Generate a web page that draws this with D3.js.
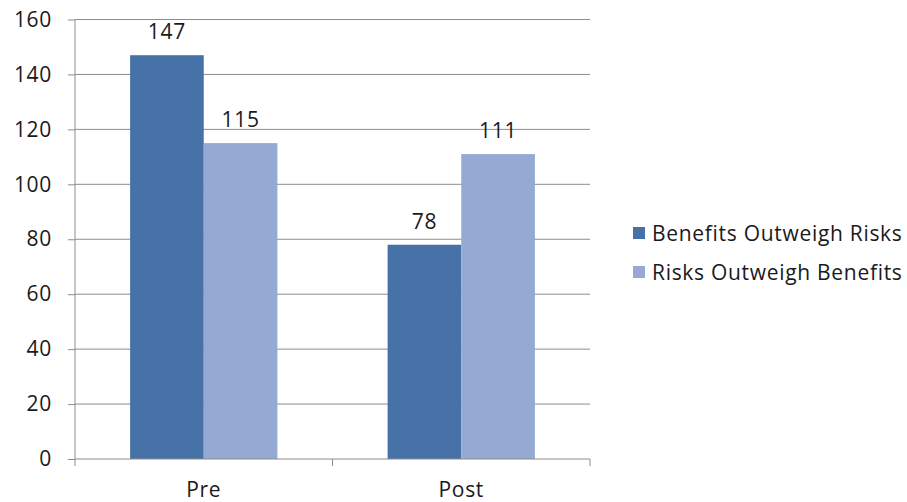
<!DOCTYPE html>
<html><head><meta charset="utf-8">
<script src="https://cdn.jsdelivr.net/npm/d3@7"></script>
<style>body{margin:0;background:#fff}svg{display:block}text{font-family:"Open Sans",sans-serif;fill:#1a1a1a;letter-spacing:0.7px}</style>
</head><body>
<svg id="c" width="907" height="502"></svg>
<script>
const categories = ["Pre", "Post"];
const seriesNames = ["Benefits Outweigh Risks", "Risks Outweigh Benefits"];
const benefits = [147, 78];
const risks = [115, 111];
const yTicks = [0, 20, 40, 60, 80, 100, 120, 140, 160];
const colors = ["#4672a7", "#95aad2"];

(function () {
const FS = 21;
const svg = d3.select("#c");
const pLeft = 75, pRight = 590, pTop = 19.5, pBottom = 459;
const y = d3.scaleLinear().domain([0, 160]).range([pBottom, pTop]);
const x0 = d3.scaleBand().domain(categories).range([pLeft, pRight]);
const groupW = x0.bandwidth() * 0.572;
const x1 = d3.scaleBand().domain(seriesNames).range([0, groupW]);
const values = [benefits, risks];

// gridlines
svg.append("g").selectAll("line").data(yTicks.filter(d => d > 0)).join("line")
  .attr("x1", pLeft).attr("x2", pRight).attr("y1", d => y(d)).attr("y2", d => y(d))
  .attr("stroke", "#8c8c8c").attr("stroke-width", 1);

// y axis
const yAxis = d3.axisLeft(y).tickValues(yTicks).tickSize(7).tickPadding(16);
const ya = svg.append("g").attr("transform", `translate(${pLeft},0)`).call(yAxis);
ya.select(".domain").attr("stroke", "#8c8c8c").attr("d", `M0,${pTop}V${pBottom}`);
ya.selectAll(".tick line").attr("stroke", "#8c8c8c");
ya.selectAll(".tick text").attr("font-size", FS).attr("font-family", "Open Sans").attr("fill", "#1a1a1a");

// bars
categories.forEach((c, ci) => {
  seriesNames.forEach((s, si) => {
    const v = values[si][ci];
    const bx = x0(c) + (x0.bandwidth() - groupW) / 2 + x1(s);
    svg.append("rect").attr("x", bx).attr("width", x1.bandwidth())
      .attr("y", y(v)).attr("height", pBottom - y(v)).attr("fill", colors[si]);
    svg.append("text").attr("x", bx + x1.bandwidth() / 2).attr("y", y(v) - 16)
      .attr("text-anchor", "middle").attr("font-size", FS).text(v);
  });
});

// x axis
const xa = svg.append("g").attr("transform", `translate(0,${pBottom})`);
xa.append("line").attr("x1", pLeft).attr("x2", pRight).attr("stroke", "#8c8c8c");
const bounds = [pLeft, ...categories.map(c => x0(c) + x0.bandwidth())];
xa.selectAll("line.t").data(bounds).join("line").attr("class", "t")
  .attr("x1", d => d).attr("x2", d => d).attr("y1", 0).attr("y2", 7).attr("stroke", "#8c8c8c");
xa.selectAll("text").data(categories).join("text")
  .attr("x", d => x0(d) + x0.bandwidth() / 2).attr("y", 38)
  .attr("text-anchor", "middle").attr("font-size", FS).text(d => d);

// legend
const lg = svg.append("g").attr("transform", "translate(633,227)");
seriesNames.forEach((s, i) => {
  lg.append("rect").attr("x", 0).attr("y", i * 39).attr("width", 12).attr("height", 12).attr("fill", colors[i]);
  lg.append("text").attr("x", 19).attr("y", i * 39 + 14).attr("font-size", FS).text(s);
});
})();
</script>
</body></html>
